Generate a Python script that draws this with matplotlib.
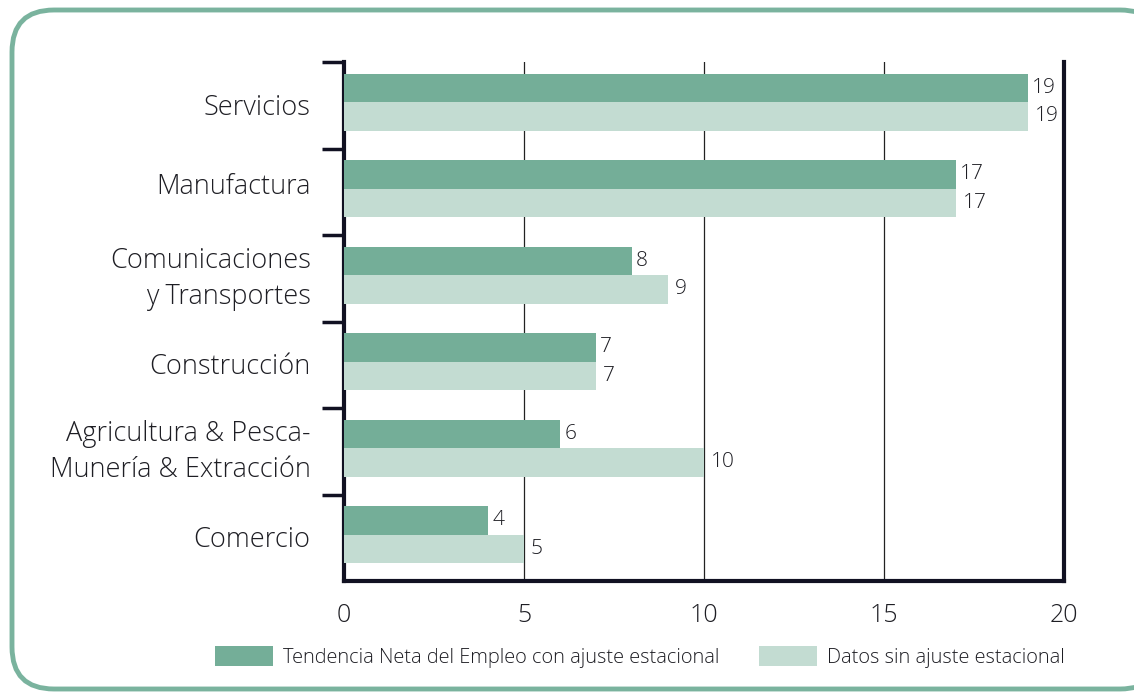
import matplotlib
matplotlib.use("Agg")
import matplotlib.pyplot as plt
from matplotlib.patches import FancyBboxPatch, Patch
from matplotlib.transforms import ScaledTranslation
import numpy as np

categories = ["Servicios", "Manufactura", "Comunicaciones\ny Transportes", "Construcción",
              "Agricultura & Pesca-\nMunería & Extracción", "Comercio"]
ajustado = [19, 17, 8, 7, 6, 4]
sin_ajuste = [19, 17, 9, 7, 10, 5]
xticks = [0, 5, 10, 15, 20]
leg_labels = ["Tendencia Neta del Empleo con ajuste estacional", "Datos sin ajuste estacional"]

dark = "#74ae98"
light = "#c3dcd2"
border = "#7ab39e"
txt = "#1e1e24"

plt.rcParams['font.family'] = ['Open Sans', 'DejaVu Sans']
plt.rcParams['font.weight'] = 'light'

fig = plt.figure(figsize=(11.34, 6.92), dpi=100)
W, H = 1134, 692

bg = fig.add_axes([0, 0, 1, 1], zorder=-5)
bg.set_xlim(0, W)
bg.set_ylim(H, 0)
bg.axis("off")
bg.add_patch(FancyBboxPatch((12, 10), 1150, 679, boxstyle="round,pad=0,rounding_size=42",
                            facecolor="white", edgecolor=border, lw=3.5))

ax = fig.add_axes([344/W, 1 - 581/H, (1064 - 344)/W, (581 - 62)/H])
ax.set_facecolor("none")
y = np.arange(len(categories))
h = 0.33
off = -0.035
ax.barh(y - h/2 + off, ajustado, height=h, color=dark, zorder=3)
ax.barh(y + h/2 + off, sin_ajuste, height=h, color=light, zorder=3)
for i in range(len(categories)):
    ax.annotate(str(ajustado[i]), (ajustado[i], y[i] - h/2 + off), xytext=(3, 0),
                textcoords="offset points", va="center", ha="left", fontsize=15, color=txt)
    ax.annotate(str(sin_ajuste[i]), (sin_ajuste[i], y[i] + h/2 + off), xytext=(5, 0),
                textcoords="offset points", va="center", ha="left", fontsize=15, color=txt)

ax.set_xlim(0, 20)
ax.set_ylim(5.5, -0.5)
ax.set_xticks(xticks)
ax.set_xticklabels([str(t) for t in xticks], fontsize=18, color=txt)
ax.tick_params(axis="x", length=0, pad=16)
ax.set_yticks(y)
ax.set_yticklabels(categories, fontsize=19.5, color=txt, linespacing=1.38)
ax.tick_params(axis="y", which="major", length=0, pad=24)
for lab in ax.get_yticklabels():
    s = lab.get_text()
    if "\n" in s:
        dy = 7
    elif s == "Manufactura":
        dy = 8
    else:
        dy = 1
    lab.set_transform(lab.get_transform() + ScaledTranslation(0, dy/100, fig.dpi_scale_trans))
ax.set_yticks(np.arange(-0.5, 5.0, 1.0), minor=True)
ax.tick_params(axis="y", which="minor", length=16, width=2.5, color="#111122")
for t in [5, 10, 15]:
    ax.axvline(t, color="#222222", lw=0.9, zorder=1)
for s in ["left", "bottom", "right"]:
    ax.spines[s].set_linewidth(3)
    ax.spines[s].set_color("#111122")
ax.spines["top"].set_visible(False)

handles = [Patch(facecolor=dark), Patch(facecolor=light)]
fig.legend(handles, leg_labels, loc="center", bbox_to_anchor=(640/W, 1 - 657/H), ncol=2,
           frameon=False, fontsize=14.4, handlelength=2.9, handleheight=1.15,
           columnspacing=1.95, handletextpad=0.5, labelcolor=txt)

fig.savefig("out.png", dpi=100)
